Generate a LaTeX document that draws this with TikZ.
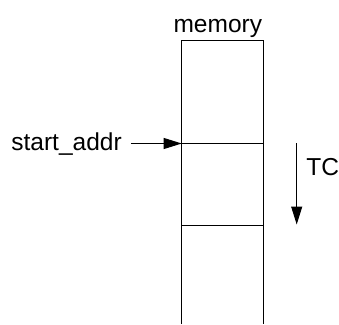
\documentclass[tikz,border=0pt]{standalone}
\usepackage{fontspec}
\setmainfont{Liberation Sans}
\usetikzlibrary{arrows.meta}
\begin{document}
\begin{tikzpicture}[x=1pt,y=-1pt,
  wire/.style={line width=1pt},
  pointer/.style={line width=1pt,-{Triangle[length=18pt,width=11pt]}},
  label/.style={inner sep=0pt,font=\fontsize{24.5}{29}\selectfont}]
  \useasboundingbox (0,0) rectangle (339,324);
  % memory column, open at the bottom
  \draw[wire] (181.7,324) -- (181.7,40) -- (263.3,40) -- (263.3,324);
  % the addressed block
  \node[inner sep=0pt,outer sep=0pt,anchor=north west,
        minimum width=81.6pt,minimum height=81.5pt] (cell) at (181.7,143.5) {};
  \draw[wire] (cell.north west) -- (cell.north east);
  \draw[wire] (cell.south west) -- (cell.south east);
  \node[label,anchor=base] (mem) at (217.8,32.7) {memory};
  \node[label,anchor=base west] (addr) at (11.2,150.7) {start\_addr};
  \coordinate (addrtail) at ([xshift=9pt]addr.east |- cell.north west);
  \draw[pointer] (addrtail) -- (cell.north west);
  % transfer-count direction
  \coordinate (tctop) at (296.7,143.3);
  \coordinate (tcbot) at (296.7,224.5);
  \draw[pointer] (tctop) -- (tcbot);
  \node[label,anchor=base west] (tc) at (306.2,175.3) {TC};
\end{tikzpicture}
\end{document}
